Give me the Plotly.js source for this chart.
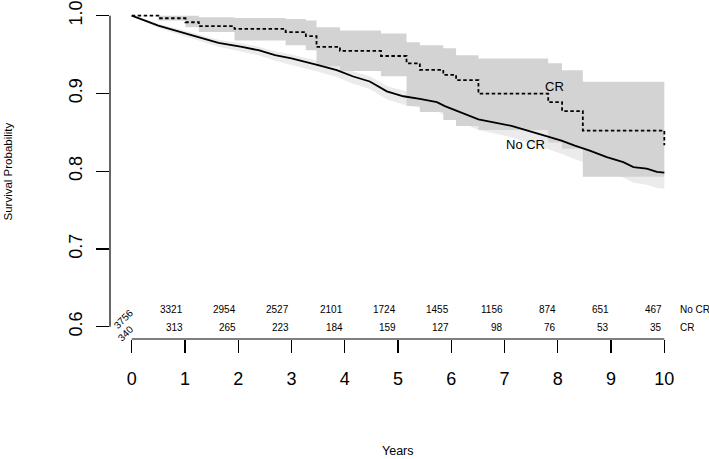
<!DOCTYPE html>
<html>
<head>
<meta charset="utf-8">
<script src="https://cdn.plot.ly/plotly-3.0.1.min.js"></script>
<style>html,body{margin:0;padding:0;background:#fff;}#chart{width:709px;height:459px;}</style>
</head>
<body>
<div id="chart"></div>
<script>
// ---- Data ----
const noCrTime  = [0, 0.25, 0.5, 0.81, 1.13, 1.44, 1.63, 2.07, 2.38, 2.69, 3.0, 3.5, 3.85, 4.16, 4.47, 4.79, 5.1, 5.41, 5.73, 5.88, 6.2, 6.51, 6.82, 7.13, 7.45, 7.76, 8.07, 8.32, 8.6, 8.92, 9.23, 9.42, 9.67, 9.86, 10.0];
const noCrSurv  = [1.0, 0.9937, 0.9873, 0.981, 0.9746, 0.9683, 0.965, 0.9599, 0.9556, 0.9492, 0.945, 0.9365, 0.930, 0.9218, 0.9154, 0.9027, 0.8964, 0.893, 0.8888, 0.8837, 0.8752, 0.8667, 0.8625, 0.8583, 0.8519, 0.8456, 0.8392, 0.8329, 0.8265, 0.818, 0.8117, 0.8053, 0.8032, 0.799, 0.7981];
const noCrLower = [1.0, 0.992, 0.9845, 0.9775, 0.9705, 0.9638, 0.960, 0.9537, 0.949, 0.942, 0.937, 0.928, 0.9213, 0.9126, 0.9057, 0.8925, 0.8858, 0.8818, 0.877, 0.8715, 0.8622, 0.853, 0.8485, 0.8435, 0.8365, 0.8295, 0.8225, 0.8155, 0.8085, 0.799, 0.792, 0.785, 0.7825, 0.7785, 0.7775];
const noCrUpper = [1.0, 0.9955, 0.9898, 0.984, 0.978, 0.972, 0.969, 0.9642, 0.9602, 0.9542, 0.9502, 0.9422, 0.936, 0.9282, 0.9222, 0.9097, 0.9037, 0.9005, 0.8968, 0.892, 0.8838, 0.8757, 0.8718, 0.868, 0.862, 0.856, 0.85, 0.844, 0.838, 0.83, 0.824, 0.818, 0.816, 0.8125, 0.8118];

const crTime  = [0, 0.5, 1.01, 1.26, 1.93, 2.89, 3.27, 3.47, 3.91, 4.68, 5.16, 5.41, 5.85, 6.09, 6.51, 7.82, 8.08, 8.47, 10.0];
const crSurv  = [1.0, 0.9967, 0.9916, 0.9865, 0.9831, 0.9789, 0.9738, 0.9599, 0.9548, 0.9482, 0.9387, 0.9302, 0.9238, 0.9171, 0.8997, 0.8889, 0.8773, 0.8523, 0.8333];
const crUpper = [1.0, 1.0, 1.0, 0.998, 0.997, 0.9958, 0.9937, 0.985, 0.981, 0.977, 0.966, 0.962, 0.958, 0.949, 0.945, 0.939, 0.930, 0.915, 0.915];
const crLower = [1.0, 0.9937, 0.9853, 0.979, 0.968, 0.962, 0.9556, 0.935, 0.929, 0.922, 0.884, 0.876, 0.866, 0.858, 0.853, 0.837, 0.829, 0.793, 0.793];

const riskYears = [0, 1, 2, 3, 4, 5, 6, 7, 8, 9, 10];
const noCrRisk  = [3756, 3321, 2954, 2527, 2101, 1724, 1455, 1156, 874, 651, 467];
const crRisk    = [340, 313, 265, 223, 184, 159, 127, 98, 76, 53, 35];

const yTicks = [0.6, 0.7, 0.8, 0.9, 1.0];
const groupLabels = ['No CR', 'CR'];

// ---- Styling ----
const FONT = 'Liberation Sans, Arial, Helvetica, sans-serif';
const lightBand = '#ebebeb';
const darkBand = '#d3d3d3';

const traces = [
  {x: noCrTime, y: noCrLower, type: 'scatter', mode: 'lines', line: {width: 0, color: lightBand}, hoverinfo: 'skip', showlegend: false},
  {x: noCrTime, y: noCrUpper, type: 'scatter', mode: 'lines', line: {width: 0, color: lightBand}, fill: 'tonexty', fillcolor: lightBand, hoverinfo: 'skip', showlegend: false},
  {x: crTime, y: crLower, type: 'scatter', mode: 'lines', line: {width: 0, shape: 'hv', color: darkBand}, hoverinfo: 'skip', showlegend: false},
  {x: crTime, y: crUpper, type: 'scatter', mode: 'lines', line: {width: 0, shape: 'hv', color: darkBand}, fill: 'tonexty', fillcolor: darkBand, hoverinfo: 'skip', showlegend: false},
  {x: noCrTime, y: noCrSurv, type: 'scatter', mode: 'lines', line: {width: 1.8, color: '#000'}, name: groupLabels[0], showlegend: false},
  {x: crTime, y: crSurv, type: 'scatter', mode: 'lines', line: {width: 1.8, color: '#000', shape: 'hv', dash: '3.5px,2.5px'}, name: groupLabels[1], showlegend: false}
];

const annotations = [];
// numbers at risk
riskYears.forEach((yr, i) => {
  if (i === 0) return;
  annotations.push({x: yr, y: 0.6221, xref: 'x', yref: 'y', text: String(noCrRisk[i]), showarrow: false, xanchor: 'right', yanchor: 'middle', font: {family: FONT, size: 10, color: '#000'}});
  annotations.push({x: yr, y: 0.5992, xref: 'x', yref: 'y', text: String(crRisk[i]), showarrow: false, xanchor: 'right', yanchor: 'middle', font: {family: FONT, size: 10, color: '#000'}});
});
annotations.push({x: -0.145, y: 0.6104, xref: 'x', yref: 'y', text: String(noCrRisk[0]), showarrow: false, textangle: -45, xanchor: 'center', yanchor: 'middle', font: {family: FONT, size: 10, color: '#000'}});
annotations.push({x: -0.116, y: 0.5914, xref: 'x', yref: 'y', text: String(crRisk[0]), showarrow: false, textangle: -45, xanchor: 'center', yanchor: 'middle', font: {family: FONT, size: 10, color: '#000'}});
annotations.push({x: 10.26, y: 0.6221, xref: 'x', yref: 'y', text: groupLabels[0], showarrow: false, xanchor: 'left', yanchor: 'middle', font: {family: FONT, size: 10, color: '#000'}});
annotations.push({x: 10.26, y: 0.5992, xref: 'x', yref: 'y', text: groupLabels[1], showarrow: false, xanchor: 'left', yanchor: 'middle', font: {family: FONT, size: 10, color: '#000'}});
// curve labels
annotations.push({x: 7.93, y: 0.909, xref: 'x', yref: 'y', text: 'CR', showarrow: false, xanchor: 'center', yanchor: 'middle', font: {family: FONT, size: 13, color: '#000'}});
annotations.push({x: 7.40, y: 0.834, xref: 'x', yref: 'y', text: 'No CR', showarrow: false, xanchor: 'center', yanchor: 'middle', font: {family: FONT, size: 13, color: '#000'}});
// axis titles
annotations.push({x: 0, y: 0.5, xref: 'paper', yref: 'paper', xshift: -103, text: 'Survival Probability', textangle: -90, showarrow: false, xanchor: 'center', yanchor: 'middle', font: {family: FONT, size: 11.5, color: '#000'}});
annotations.push({x: 5, y: 0, xref: 'x', yref: 'paper', yshift: -112, text: 'Years', showarrow: false, xanchor: 'center', yanchor: 'middle', font: {family: FONT, size: 12.5, color: '#000'}});

const layout = {
  width: 709, height: 459,
  margin: {l: 110, r: 23, t: 4, b: 120, pad: 0},
  paper_bgcolor: '#fff', plot_bgcolor: '#fff',
  showlegend: false,
  font: {family: FONT, color: '#000'},
  xaxis: {
    range: [-0.4074, 10.407], tickvals: riskYears, ticktext: riskYears.map(String),
    ticks: 'outside', ticklen: 13, tickwidth: 1.2, tickcolor: '#000',
    showgrid: false, zeroline: false, showline: false,
    tickfont: {family: FONT, size: 18, color: '#000'}, ticklabelstandoff: 10
  },
  yaxis: {
    range: [0.58418, 1.01505], tickvals: yTicks, ticktext: yTicks.map(v => v.toFixed(1)),
    ticks: 'outside', ticklen: 13, tickwidth: 1.2, tickcolor: '#000', tickangle: -90,
    showgrid: false, zeroline: false, showline: false, ticklabeloverflow: 'allow',
    tickfont: {family: FONT, size: 18, color: '#000'}, ticklabelstandoff: 7
  },
  shapes: [
    {type: 'line', xref: 'paper', yref: 'y', x0: 0, x1: 0, y0: yTicks[0], y1: yTicks[yTicks.length - 1], line: {color: '#000', width: 1.2}, layer: 'above'},
    {type: 'line', xref: 'x', yref: 'paper', x0: riskYears[0], x1: riskYears[riskYears.length - 1], y0: 0, y1: 0, line: {color: '#000', width: 1.2}, layer: 'above'}
  ],
  annotations: annotations
};

Plotly.newPlot('chart', traces, layout, {displayModeBar: false, staticPlot: true});
</script>
</body>
</html>
